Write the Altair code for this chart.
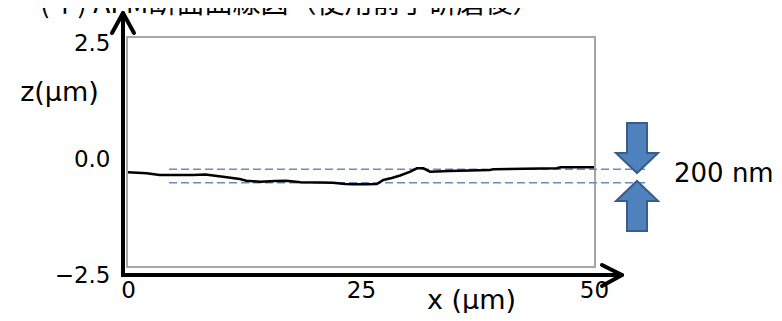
import altair as alt
import pandas as pd

# AFM cross-section profile
x_um = [0.0, 2.0, 3.4, 5.0, 7.0, 8.3, 10.2, 12.0, 12.7, 14.2, 15.8, 17.0, 18.5,
        20.6, 22.0, 23.3, 24.2, 25.4, 26.7, 27.4, 28.3, 29.2, 30.3, 31.0, 31.7,
        32.4, 34.5, 38.8, 39.2, 46.0, 46.4, 50.0]
z_um = [-0.287, -0.308, -0.345, -0.345, -0.345, -0.334, -0.381, -0.431, -0.468,
        -0.489, -0.474, -0.468, -0.502, -0.506, -0.511, -0.539, -0.545, -0.545,
        -0.539, -0.453, -0.410, -0.356, -0.274, -0.200, -0.200, -0.274, -0.259,
        -0.237, -0.222, -0.200, -0.179, -0.179]

# 200 nm band (dashed reference lines)
band_x = [4.4, 55.5]
band_levels = [-0.22, -0.51]

x_ticks = [0, 25, 50]
y_ticks = [-2.5, 0.0, 2.5]

title_text = "(イ) AFM断面曲線図（使用前手研磨後）"
band_label = "200 nm"

profile = pd.DataFrame({"x": x_um, "z": z_um})
band = pd.DataFrame(
    [{"x": bx, "z": lv, "line": i} for i, lv in enumerate(band_levels) for bx in band_x]
)
one = pd.DataFrame({"k": [0]})  # single row for decorations

xscale = alt.Scale(domain=[0, 50], nice=False)
yscale = alt.Scale(domain=[-2.5, 2.5], nice=False)

frame = alt.Chart(one).mark_rect(
    fill="white", fillOpacity=0, stroke="#a6a6a6", strokeWidth=2
).encode(
    x=alt.value(-1), x2=alt.value(467), y=alt.value(-6), y2=alt.value(224)
)

band_lines = alt.Chart(band).mark_line(
    color="#6a8cbc", strokeWidth=1.5, strokeDash=[8, 4]
).encode(
    x=alt.X("x:Q", scale=xscale),
    y=alt.Y("z:Q", scale=yscale),
    detail="line:N",
)

line = alt.Chart(profile).mark_line(color="black", strokeWidth=2.5).encode(
    x=alt.X(
        "x:Q", scale=xscale,
        axis=alt.Axis(
            values=x_ticks, format="d", domain=False, ticks=False, grid=False,
            labelFontSize=23, labelPadding=4, labelColor="black", labelFlush=False,
            title="x (μm)", titleX=343, titleY=33, titleBaseline="alphabetic",
            titleAlign="center", titleFontSize=27, titleFontWeight="normal",
            titleColor="black",
        ),
    ),
    y=alt.Y(
        "z:Q", scale=yscale,
        axis=alt.Axis(
            values=y_ticks, format=".1f", domain=False, ticks=False, grid=False,
            labelFontSize=23, labelPadding=18, labelColor="black", labelFlush=False,
            title="z(μm)", titleAngle=0, titleX=-69, titleY=49,
            titleAlign="center", titleBaseline="middle", titleFontSize=27,
            titleFontWeight="normal", titleColor="black",
        ),
    ),
    order=alt.Order("x:Q"),
)

def rule(x1, y1, x2, y2, cap="butt"):
    return alt.Chart(one).mark_rule(
        color="black", strokeWidth=4, strokeCap=cap
    ).encode(
        x=alt.value(x1), y=alt.value(y1), x2=alt.value(x2), y2=alt.value(y2)
    )

axes_arrows = [
    rule(-5, 234, -5, -28),
    rule(-16, -10, -5, -30, "round"),
    rule(6, -10, -5, -30, "round"),
    rule(-7, 232, 493, 232),
    rule(474, 222, 494, 232, "round"),
    rule(474, 243, 494, 232, "round"),
]

down_path = "M-0.4,-1L0.4,-1L0.4,0.2L0.84,0.2L0,1L-0.84,0.2L-0.4,0.2Z"
up_path = "M-0.4,1L0.4,1L0.4,-0.2L0.84,-0.2L0,-1L-0.84,-0.2L-0.4,-0.2Z"

def block_arrow(path, yy):
    return alt.Chart(one).mark_point(
        shape=path, size=2500, filled=True, fill="#4F81BD",
        stroke="#385D8A", strokeWidth=2, opacity=1
    ).encode(x=alt.value(509), y=alt.value(yy))

arrows = [block_arrow(down_path, 105), block_arrow(up_path, 163)]

label = alt.Chart(one).mark_text(
    text=band_label, fontSize=26, font="DejaVu Sans", align="left",
    baseline="middle", color="black"
).encode(x=alt.value(546), y=alt.value(131))

title = alt.Chart(one).mark_text(
    text=title_text, fontSize=28, font="Noto Sans CJK JP", align="left",
    baseline="alphabetic", color="black"
).encode(x=alt.value(-88), y=alt.value(-30))

chart = alt.layer(
    frame, band_lines, line, *axes_arrows, *arrows, label, title
).properties(
    width=466, height=232,
    padding={"left": 120, "top": 35, "right": 180, "bottom": 38},
    autosize=alt.AutoSizeParams(type="none"),
).configure(
    font="DejaVu Sans"
).configure_view(stroke=None)

chart.save("out.html", embed_options={"renderer": "svg", "actions": False})
